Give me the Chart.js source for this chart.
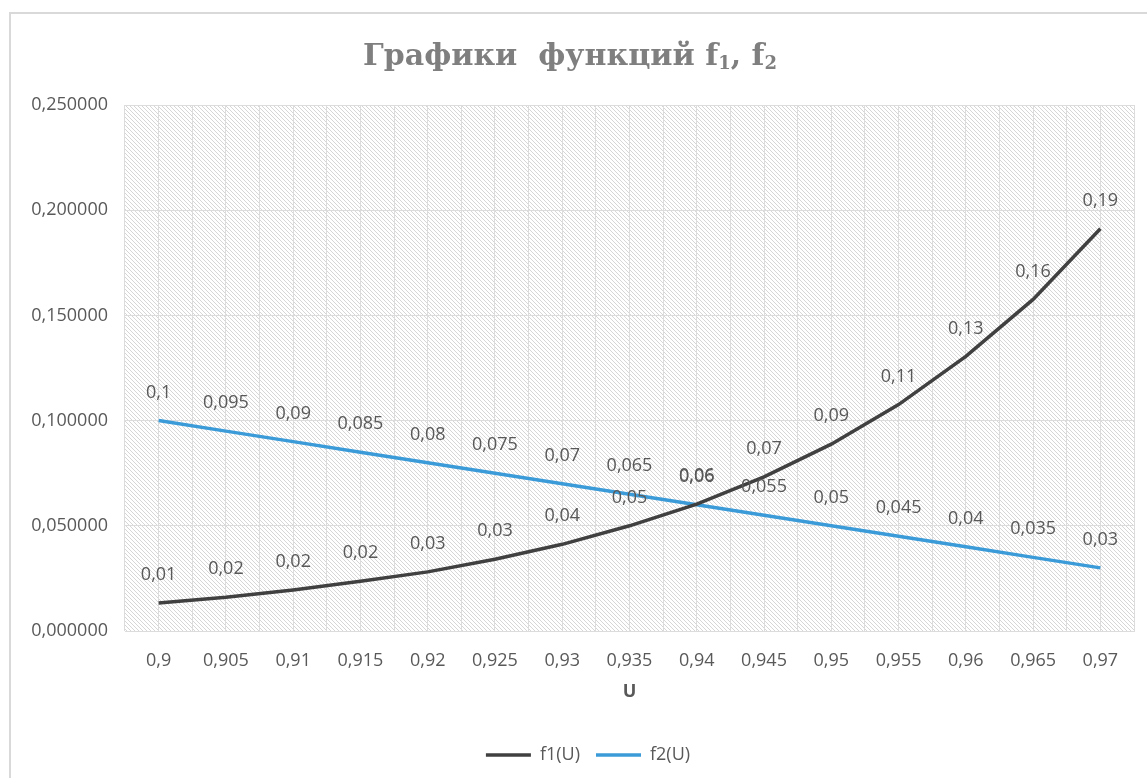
<!DOCTYPE html>
<html>
<head>
<meta charset="utf-8">
<script src="https://cdn.jsdelivr.net/npm/chart.js@4.4.0/dist/chart.umd.min.js"></script>
<style>
    html, body { margin: 0; padding: 0; background: #ffffff; }
    #wrap { width: 1147px; height: 778px; }
</style>
</head>
<body>
<div id="wrap"><canvas id="chart"></canvas></div>
<script>
(function () {
    "use strict";

    // categories (U) and series values
    var uLabels = ['0,9', '0,905', '0,91', '0,915', '0,92', '0,925', '0,93', '0,935',
                   '0,94', '0,945', '0,95', '0,955', '0,96', '0,965', '0,97'];
    var f1Values = [0.0133, 0.0160, 0.0195, 0.0236, 0.0281, 0.0341, 0.0412, 0.0500,
                    0.0603, 0.0733, 0.0888, 0.1076, 0.1305, 0.1576, 0.1912];
    var f2Values = [0.1, 0.095, 0.09, 0.085, 0.08, 0.075, 0.07, 0.065,
                    0.06, 0.055, 0.05, 0.045, 0.04, 0.035, 0.03];
    var f1Digits = 2, f2Digits = 3;
    var yMin = 0, yMax = 0.25, yStep = 0.05;
    var titleParts = [
        {text: 'Графики  функций f', sub: false},
        {text: '1', sub: true},
        {text: ', f', sub: false},
        {text: '2', sub: true}
    ];

    var textColor = '#595959';
    var gridColor = '#dcdcdc';
    var baseFont = 'Open Sans';

    function comma(v, digits) {
        return String(parseFloat(v.toFixed(digits))).replace('.', ',');
    }

    function makeHatch() {
        var c = document.createElement('canvas');
        c.width = 4; c.height = 4;
        var g = c.getContext('2d');
        g.fillStyle = '#ffffff';
        g.fillRect(0, 0, 4, 4);
        g.fillStyle = '#d6d6d6';
        for (var i = 0; i < 4; i++)
            g.fillRect(i, i, 1, 1);
        return c;
    }

    var backdrop = {
        id: 'backdrop',
        afterLayout: function (chart) {
            // legend sits a bit right of centre in the original
            chart.legend.left += 21;
            chart.legend.right += 21;
        },
        beforeDraw: function (chart) {
            var ctx = chart.ctx, a = chart.chartArea;
            ctx.save();
            ctx.fillStyle = '#ffffff';
            ctx.fillRect(0, 0, chart.width, chart.height);
            ctx.strokeStyle = '#d9d9d9';
            ctx.lineWidth = 2;
            ctx.strokeRect(10, 13, chart.width + 20, chart.height + 20);
            ctx.fillStyle = ctx.createPattern(makeHatch(), 'repeat');
            ctx.fillRect(a.left, a.top, a.right - a.left, a.bottom - a.top);
            ctx.restore();
        }
    };

    var titlePlugin = {
        id: 'subTitle',
        afterDraw: function (chart) {
            var ctx = chart.ctx;
            var mainFont = 'bold 30px "DejaVu Serif"', subFont = 'bold 18px "DejaVu Serif"';
            ctx.save();
            var total = 0;
            titleParts.forEach(function (p) {
                ctx.font = p.sub ? subFont : mainFont;
                total += ctx.measureText(p.text).width;
            });
            var x = 570 - total / 2;
            ctx.fillStyle = '#7f7f7f';
            ctx.textBaseline = 'alphabetic';
            ctx.textAlign = 'left';
            titleParts.forEach(function (p) {
                ctx.font = p.sub ? subFont : mainFont;
                ctx.fillText(p.text, x, p.sub ? 69 : 65);
                x += ctx.measureText(p.text).width;
            });
            ctx.restore();
        }
    };

    var valueLabels = {
        id: 'valueLabels',
        afterDatasetsDraw: function (chart) {
            var ctx = chart.ctx;
            ctx.save();
            ctx.font = '18px "' + baseFont + '"';
            ctx.fillStyle = textColor;
            ctx.textAlign = 'center';
            ctx.textBaseline = 'middle';
            chart.data.datasets.forEach(function (ds, i) {
                var meta = chart.getDatasetMeta(i);
                meta.data.forEach(function (pt, j) {
                    ctx.fillText(comma(ds.data[j], ds.labelDigits), pt.x, pt.y - 28);
                });
            });
            ctx.restore();
        }
    };

    var ctx = document.getElementById('chart').getContext('2d');
    new Chart(ctx, {
        type: 'line',
        data: {
            labels: uLabels,
            datasets: [
                {label: 'f1(U)', data: f1Values, labelDigits: f1Digits, borderColor: '#404040', backgroundColor: '#404040',
                    borderWidth: 3.5, pointRadius: 0, pointHoverRadius: 0, tension: 0, fill: false},
                {label: 'f2(U)', data: f2Values, labelDigits: f2Digits, borderColor: '#3b9bd8', backgroundColor: '#3b9bd8',
                    borderWidth: 3.5, pointRadius: 0, pointHoverRadius: 0, tension: 0, fill: false}
            ]
        },
        options: {
            responsive: true,
            maintainAspectRatio: false,
            animation: false,
            events: [],
            layout: {padding: {top: 105, left: 0, right: 13, bottom: 4}},
            scales: {
                x: {
                    type: 'category',
                    offset: true,
                    grid: {color: gridColor, offset: true, drawTicks: false},
                    border: {color: gridColor},
                    ticks: {color: textColor, font: {family: baseFont, size: 18}, padding: 19, maxRotation: 0, autoSkip: false},
                    title: {display: true, text: 'U', color: textColor, font: {family: baseFont, size: 18, weight: 'bold'},
                        padding: {top: 0, bottom: 27}},
                    afterFit: function (s) { s.height = 99; }
                },
                x2: {
                    type: 'category',
                    position: 'bottom',
                    offset: true,
                    grid: {color: gridColor, offset: false, drawTicks: false},
                    border: {display: false},
                    ticks: {display: false},
                    afterFit: function (s) { s.height = 0; }
                },
                y: {
                    min: yMin,
                    max: yMax,
                    grid: {color: gridColor, drawTicks: false},
                    border: {display: false},
                    ticks: {
                        stepSize: yStep, color: textColor, font: {family: baseFont, size: 18}, padding: 17,
                        callback: function (v) { return v.toFixed(6).replace('.', ','); }
                    },
                    afterFit: function (s) { s.width = 125; }
                }
            },
            plugins: {
                title: {display: false},
                tooltip: {enabled: false},
                legend: {
                    position: 'bottom',
                    labels: {
                        usePointStyle: true, pointStyle: 'line', pointStyleWidth: 45,
                        color: textColor, font: {family: baseFont, size: 18}, padding: 16
                    }
                }
            }
        },
        plugins: [backdrop, titlePlugin, valueLabels]
    });
}());
</script>
</body>
</html>
